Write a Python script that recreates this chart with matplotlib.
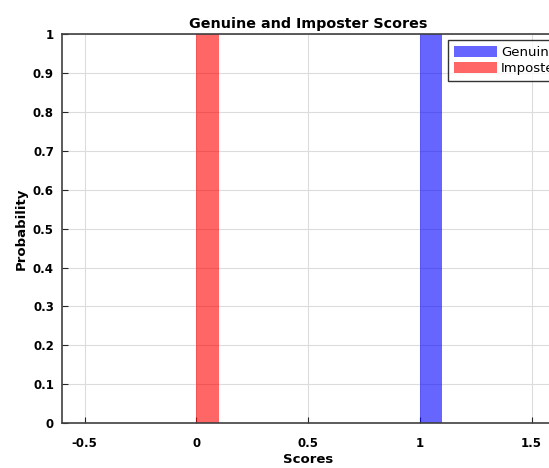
import matplotlib
matplotlib.use('Agg')
import matplotlib.pyplot as plt

# histogram bins (left edge) and probabilities
bin_width = 0.1
genuine_left = [1.0]
genuine_prob = [1.0]
imposter_left = [0.0]
imposter_prob = [1.0]

xticks = [-0.5, 0, 0.5, 1, 1.5]
xtick_labels = ['-0.5', '0', '0.5', '1', '1.5']
yticks = [0, 0.1, 0.2, 0.3, 0.4, 0.5, 0.6, 0.7, 0.8, 0.9, 1]
ytick_labels = ['0', '0.1', '0.2', '0.3', '0.4', '0.5', '0.6', '0.7', '0.8', '0.9', '1']

fig = plt.figure(figsize=(5.49, 4.68), dpi=100)
# axes runs up to the right edge of the figure (cropped screenshot)
ax = fig.add_axes([0.1135, 0.0955, 0.8956, 0.832])

ax.bar(genuine_left, genuine_prob, width=bin_width, align='edge',
       color='blue', alpha=0.6, label='Genuine', linewidth=0)
ax.bar(imposter_left, imposter_prob, width=bin_width, align='edge',
       color='red', alpha=0.6, label='Imposter', linewidth=0)

ax.set_xlim(-0.6, 1.6)
ax.set_ylim(0, 1)
ax.set_xticks(xticks)
ax.set_xticklabels(xtick_labels, fontweight='bold', fontsize=8.5)
ax.set_yticks(yticks)
ax.set_yticklabels(ytick_labels, fontweight='bold', fontsize=8.5)
ax.tick_params(direction='in', length=4, color='#262626', width=0.8)
ax.tick_params(axis='x', pad=10)
ax.tick_params(axis='y', pad=6)
ax.grid(True, color='#dcdcdc', linewidth=0.8)
ax.set_axisbelow(True)
for s in ax.spines.values():
    s.set_color('#404040')
    s.set_linewidth(1.2)

ax.set_title('Genuine and Imposter Scores', fontweight='bold', fontsize=10.3, pad=4)
ax.set_xlabel('Scores', fontweight='bold', fontsize=9.5, labelpad=2)
ax.set_ylabel('Probability', fontweight='bold', fontsize=9.5, labelpad=4)

# legend is wider than the visible area in the reference, so it runs off the edge
leg = ax.legend(loc='upper left', bbox_to_anchor=(448 / 549, 1 - 40 / 468),
                bbox_transform=fig.transFigure, borderaxespad=0,
                fontsize=9.5, frameon=True, fancybox=False,
                handlelength=3.26, handleheight=0.9,
                labelspacing=0.25, borderpad=0.45, handletextpad=0.3)
leg.get_frame().set_edgecolor('black')
leg.get_frame().set_linewidth(1.0)

fig.savefig('out.png', dpi=100)
